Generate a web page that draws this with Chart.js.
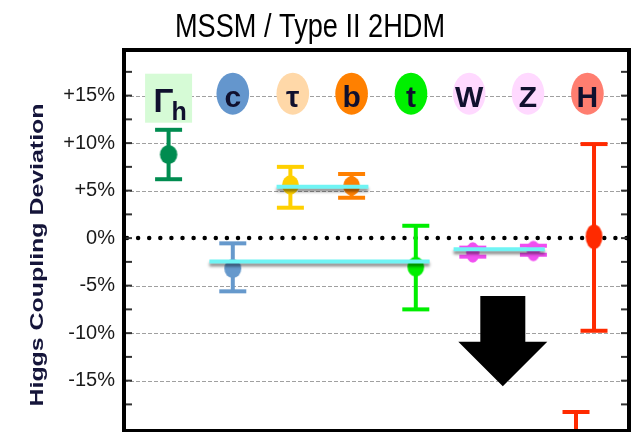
<!DOCTYPE html>
<html>
<head>
<meta charset="utf-8">
<script src="https://cdn.jsdelivr.net/npm/chart.js@4.4.0/dist/chart.umd.min.js"></script>
<style>
  html, body { margin: 0; padding: 0; background: #fff; }
</style>
</head>
<body>
<canvas id="myChart" width="635" height="432"></canvas>
<script>
// categories along the top, and where their badges sit (x in category units, y in %)
const categories = ['Γ', 'c', 'τ', 'b', 't', 'W', 'Z', 'H']
const labelX = [1.01, 2.08, 3.08, 4.06, 5.05, 6.02, 7.0, 7.99]
const labelY = 15.2

// measured deviations (%) with their error bars
const pointX = [1.01, 2.08, 3.04, 4.06, 5.13, 6.08, 7.09, 8.10]
const central = [8.8, -3.2, 5.6, 5.5, -3.0, -1.5, -1.35, 0.15]
const upper = [11.4, -0.55, 7.5, 6.75, 1.3, -1.0, -0.8, 9.9]
const lower = [6.2, -5.6, 3.2, 4.25, -7.5, -1.95, -1.75, -9.75]

// second H bar that runs off the bottom of the plot
const offscaleX = [7.8]
const offscaleTop = [-18.3]
const offscaleBottom = [-30]

// cyan model prediction bands
const bandStart = [2.81, 1.69, 5.76]
const bandEnd = [4.34, 5.36, 7.28]
const bandValue = [5.42, -2.47, -1.17]

// big arrow
const arrowX = [6.58]
const arrowTop = [-6.1]
const arrowNeck = [-10.9]
const arrowTip = [-15.6]

const yTicks = [-15, -10, -5, 0, 5, 10, 15]

// styles
const pointColors = ['#008c50', '#6699cc', '#ffd000', '#ff8000', '#00ee00', '#f04ef0', '#f04ef0', '#ff2a00']
const badgeColors = ['#d6fbd6', '#6496cd', '#ffd8a8', '#ff8000', '#00f000', '#ffd9ff', '#ffd9ff', '#ff7e70']
const markerRx = [8.7, 8.5, 8.4, 8.4, 8.4, 6.7, 6.7, 8.4]
const markerRy = [9.5, 9.5, 9.7, 9.7, 10, 10.3, 10.3, 12.2]
const textColor = '#10102e'

function ellipseImg(color, rx, ry) {
  const c = document.createElement('canvas')
  c.width = Math.ceil(rx * 2) + 2
  c.height = Math.ceil(ry * 2) + 2
  const g = c.getContext('2d')
  g.fillStyle = color
  g.beginPath()
  g.ellipse(c.width / 2, c.height / 2, rx, ry, 0, 0, Math.PI * 2)
  g.fill()
  return c
}
const markers = pointColors.map((col, i) => ellipseImg(col, markerRx[i], markerRy[i]))

const bandSets = bandValue.map((v, i) => ({
  isBand: true,
  data: [{x: bandStart[i], y: v}, {x: bandEnd[i], y: v}],
  showLine: true,
  borderColor: '#6ff4f4',
  borderWidth: 4,
  pointRadius: 0,
  order: 0
}))

const pointSet = {
  data: pointX.map((x, i) => ({x: x, y: central[i]})),
  pointStyle: markers,
  pointRadius: 9,
  backgroundColor: pointColors,
  borderWidth: 0,
  order: 1
}

function stroke(ctx, x1, y1, x2, y2) {
  ctx.beginPath(); ctx.moveTo(x1, y1); ctx.lineTo(x2, y2); ctx.stroke()
}

function errorBar(ctx, xs, ys, x, lo, hi, color) {
  const px = xs.getPixelForValue(x)
  const top = ys.getPixelForValue(hi)
  const bot = ys.getPixelForValue(lo)
  ctx.strokeStyle = color
  ctx.lineWidth = 4
  stroke(ctx, px, top, px, bot)
  stroke(ctx, px - 13.5, top, px + 13.5, top)
  stroke(ctx, px - 13.5, bot, px + 13.5, bot)
}

const decor = {
  id: 'decor',
  beforeDatasetsDraw(chart) {
    const {ctx, chartArea: a, scales: {x: xs, y: ys}} = chart
    ctx.save()
    // grid
    ctx.strokeStyle = '#a0a0a0'
    ctx.lineWidth = 1
    ctx.setLineDash([4, 2])
    yTicks.forEach(v => {
      if (v === 0) return
      const py = Math.round(ys.getPixelForValue(v)) + 0.5
      stroke(ctx, a.left, py, a.right, py)
    })
    // zero line
    ctx.setLineDash([0, 11.1])
    ctx.lineCap = 'round'
    ctx.lineWidth = 4.5
    ctx.strokeStyle = '#000'
    const zy = ys.getPixelForValue(0)
    stroke(ctx, a.left + 3, zy, a.right, zy)
    ctx.setLineDash([])
    ctx.lineCap = 'butt'

    // category badges
    categories.forEach((t, i) => {
      const cx = xs.getPixelForValue(labelX[i])
      const cy = ys.getPixelForValue(labelY)
      ctx.fillStyle = badgeColors[i]
      if (i === 0) {
        ctx.fillRect(cx - 23.5, cy - 20, 47, 49)
        ctx.fillStyle = textColor
        ctx.textAlign = 'left'
        ctx.font = 'bold 33px "Liberation Sans", Arial, sans-serif'
        ctx.fillText(t, cx - 15, cy + 18)
        ctx.font = 'bold 25px "Liberation Sans", Arial, sans-serif'
        ctx.fillText('h', cx + 3, cy + 26)
        return
      }
      ctx.beginPath()
      ctx.ellipse(cx, cy, 16.3, 21, 0, 0, Math.PI * 2)
      ctx.fill()
      ctx.fillStyle = textColor
      ctx.textAlign = 'center'
      ctx.font = 'bold 30px "Liberation Sans", Arial, sans-serif'
      ctx.fillText(t, cx, cy + 13)
    })

    // arrow
    const ax = xs.getPixelForValue(arrowX[0])
    const t0 = ys.getPixelForValue(arrowTop[0])
    const n0 = ys.getPixelForValue(arrowNeck[0])
    const tip = ys.getPixelForValue(arrowTip[0])
    ctx.fillStyle = '#000'
    ctx.beginPath()
    ctx.moveTo(ax - 22.5, t0)
    ctx.lineTo(ax + 22.5, t0)
    ctx.lineTo(ax + 22.5, n0)
    ctx.lineTo(ax + 44.5, n0)
    ctx.lineTo(ax, tip)
    ctx.lineTo(ax - 44.5, n0)
    ctx.lineTo(ax - 22.5, n0)
    ctx.closePath()
    ctx.fill()

    // error bars
    ctx.beginPath()
    ctx.rect(a.left, a.top, a.right - a.left, a.bottom - a.top)
    ctx.clip()
    pointX.forEach((x, i) => errorBar(ctx, xs, ys, x, lower[i], upper[i], pointColors[i]))
    offscaleX.forEach((x, i) => errorBar(ctx, xs, ys, x, offscaleBottom[i], offscaleTop[i], pointColors[7]))
    ctx.restore()
  },
  beforeDatasetDraw(chart, args) {
    if (chart.data.datasets[args.index].isBand) {
      const ctx = chart.ctx
      ctx.save()
      ctx.shadowColor = 'rgba(0,0,0,0.45)'
      ctx.shadowOffsetY = 3
      ctx.shadowBlur = 3
    }
  },
  afterDatasetDraw(chart, args) {
    if (chart.data.datasets[args.index].isBand) chart.ctx.restore()
  },
  afterDraw(chart) {
    const {ctx, chartArea: a, scales: {y: ys}} = chart
    ctx.save()
    // inner tick marks every 2.5%
    ctx.strokeStyle = '#333'
    ctx.lineWidth = 2
    for (let v = -17.5; v <= 17.5; v += 2.5) {
      const py = ys.getPixelForValue(v)
      stroke(ctx, a.left + 2, py, a.left + 8, py)
      stroke(ctx, a.right - 8, py, a.right - 2, py)
    }
    // frame
    ctx.strokeStyle = '#000'
    ctx.lineWidth = 4
    ctx.strokeRect(a.left, a.top, a.right - a.left, a.bottom - a.top)

    // title
    ctx.fillStyle = '#000'
    ctx.textAlign = 'center'
    ctx.textBaseline = 'alphabetic'
    ctx.font = '33px "Liberation Sans Narrow", "Liberation Sans", Arial, sans-serif'
    let w = ctx.measureText('MSSM / Type II 2HDM').width
    ctx.save()
    ctx.translate(310, 37)
    ctx.scale(270 / w, 1)
    ctx.fillText('MSSM / Type II 2HDM', 0, 0)
    ctx.restore()

    // y axis title
    ctx.fillStyle = '#15153a'
    ctx.font = 'bold 19px "Liberation Sans", Arial, sans-serif'
    w = ctx.measureText('Higgs Coupling Deviation').width
    ctx.translate(43, 255)
    ctx.rotate(-Math.PI / 2)
    ctx.scale(303 / w, 1)
    ctx.fillText('Higgs Coupling Deviation', 0, 0)
    ctx.restore()
  }
}

const config = {
  type: 'scatter',
  data: { datasets: [...bandSets, pointSet] },
  options: {
    responsive: false,
    animation: false,
    devicePixelRatio: 1,
    layout: { autoPadding: false, padding: { top: 50, right: 6, bottom: 1, left: 0 } },
    plugins: { legend: { display: false }, tooltip: { enabled: false } },
    scales: {
      x: { type: 'linear', min: 0.267, max: 8.683, display: false },
      y: {
        type: 'linear',
        min: -20.3,
        max: 19.8,
        afterFit: s => { s.width = 124; s.paddingTop = 0; s.paddingBottom = 0 },
        afterBuildTicks: s => { s.ticks = yTicks.map(v => ({value: v})) },
        grid: { display: false, drawTicks: false },
        border: { display: false },
        ticks: {
          padding: 9,
          color: '#1a1a1a',
          font: { family: '"Liberation Sans", Arial, sans-serif', size: 20 },
          callback: v => (v > 0 ? '+' : '') + v + '%'
        }
      }
    }
  },
  plugins: [decor]
}

const myChart = new Chart(document.getElementById('myChart'), config)
</script>
</body>
</html>
